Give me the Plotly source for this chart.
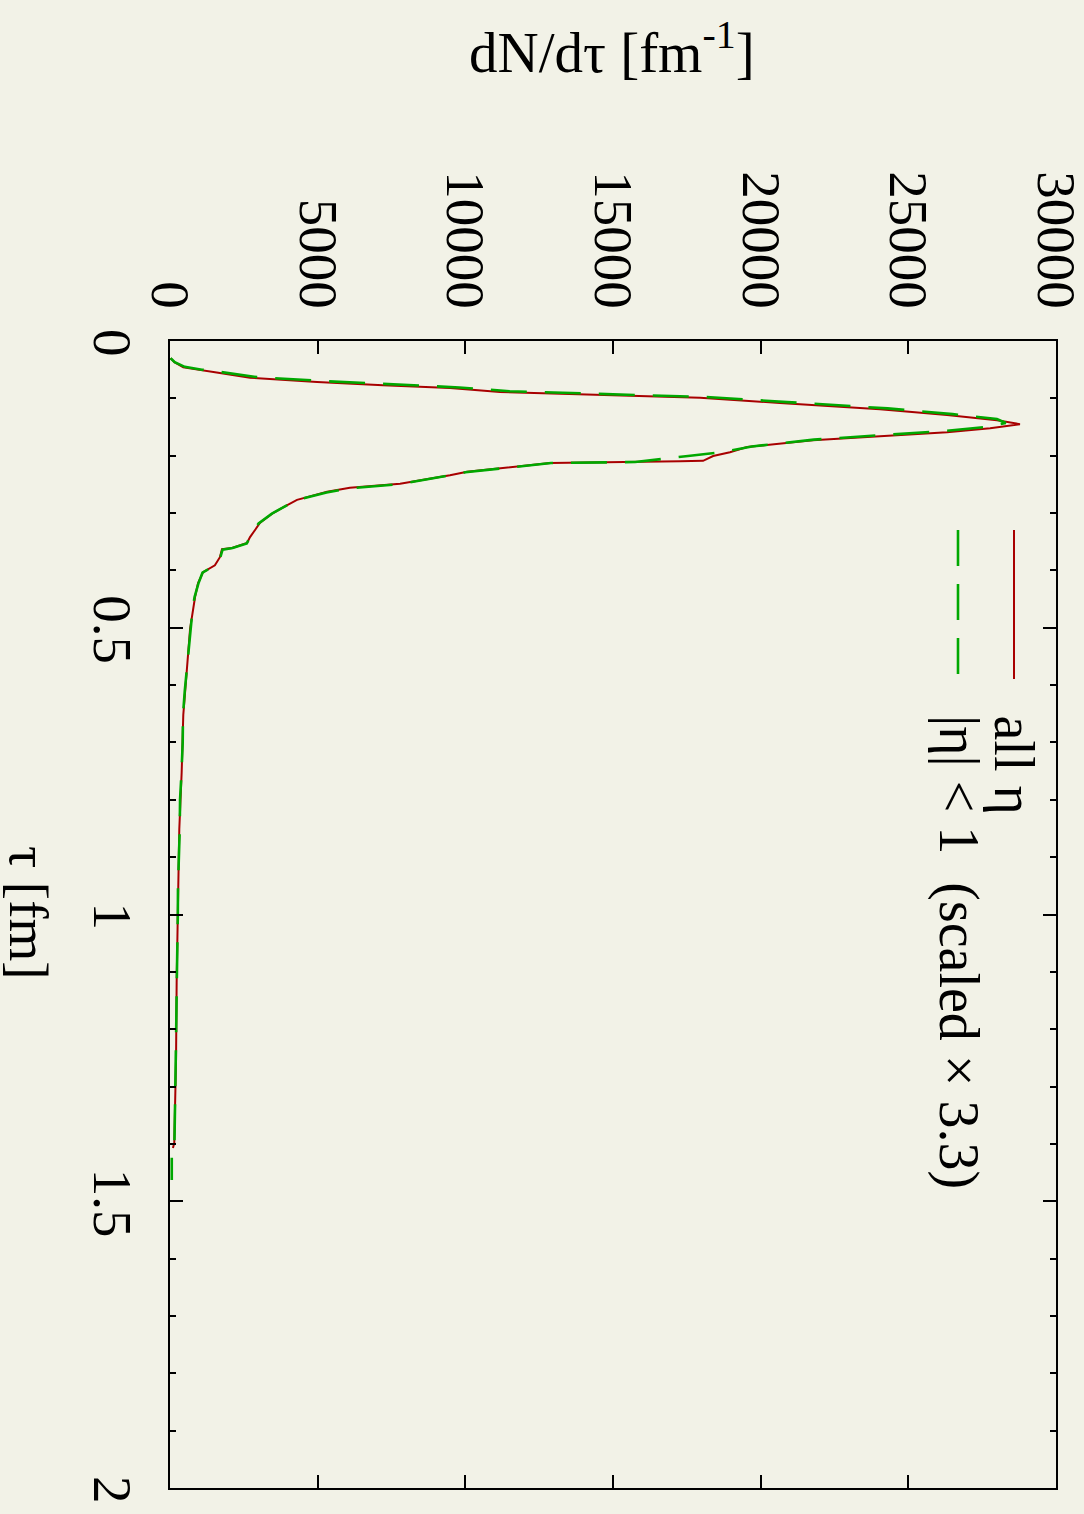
import plotly.graph_objects as go

# dN/dtau for all particles (solid) and for |eta| < 1 scaled by 3.3 (dashed)
tau_all = [0.030, 0.037, 0.046, 0.051, 0.055, 0.064, 0.0715, 0.077, 0.082, 0.089,
           0.094, 0.099, 0.108, 0.119, 0.129, 0.138, 0.145, 0.152, 0.159, 0.166,
           0.173, 0.185, 0.194, 0.2005, 0.209, 0.2095, 0.211, 0.2127, 0.228, 0.234,
           0.249, 0.256, 0.263, 0.277, 0.290, 0.300, 0.317, 0.342, 0.352, 0.361,
           0.363, 0.377, 0.391, 0.403, 0.422, 0.446, 0.502, 0.572, 0.652, 0.752,
           0.851, 0.952, 1.051, 1.118, 1.252, 1.318, 1.398, 1.407]
dn_all = [20, 150, 450, 1016, 1580, 2710, 4980, 7210, 9480, 11170,
          14560, 17950, 20650, 24040, 26310, 28000, 28780, 27770, 26310, 24040,
          21770, 19540, 18960, 18390, 18050, 17270, 15140, 12870, 10060, 9480,
          7790, 6090, 5320, 4300, 3830, 3490, 3050, 2710, 2610, 2100,
          1760, 1690, 1520, 1120, 950, 850, 680, 565, 450, 395,
          315, 280, 245, 225, 205, 170, 145, 100]

tau_mid = [0.030, 0.037, 0.045, 0.050, 0.054, 0.063, 0.070, 0.0755, 0.081, 0.0875,
           0.093, 0.098, 0.1065, 0.1175, 0.1275, 0.136, 0.143, 0.150, 0.157, 0.164,
           0.172, 0.184, 0.1936, 0.2005, 0.204, 0.211, 0.2127, 0.229, 0.235, 0.250,
           0.257, 0.264, 0.278, 0.290, 0.301, 0.318, 0.342, 0.353, 0.361, 0.364,
           0.378, 0.392, 0.404, 0.423, 0.447, 0.470, 0.502, 0.540, 0.572, 0.610,
           0.652, 0.700, 0.752, 0.800, 0.851, 0.900, 0.952, 1.000, 1.051, 1.118,
           1.180, 1.252, 1.318, 1.400, 1.412, 1.463]
dn_mid = [20, 160, 500, 1080, 1700, 2950, 5250, 7500, 9800, 11500,
          14900, 18300, 20900, 24300, 26500, 28000, 28300, 27600, 26200, 24000,
          21800, 19700, 18720, 17540, 16930, 15750, 12900, 10000, 9400, 7700,
          6050, 5300, 4250, 3850, 3450, 3000, 2700, 2600, 2120, 1780,
          1700, 1500, 1100, 960, 830, 760, 700, 610, 560, 500,
          440, 430, 390, 340, 330, 290, 270, 265, 240, 230,
          215, 205, 175, 150, 60, 60]

dn_ticks = [0, 5000, 10000, 15000, 20000, 25000, 30000]
dn_tick_text = ["0", "5000", "10000", "15000", "20000", "25000", "30000"]
tau_ticks = [0, 0.5, 1, 1.5, 2]
tau_tick_text = ["0", "0.5", "1", "1.5", "2"]

label_all = "all η"
label_mid = "|η| &lt; 1\u00a0\u00a0(scaled × 3.3)"
title_dn = "dN/dτ [fm<sup>-1</sup>]"
title_tau = "τ [fm]"

RED = "#a80000"
GREEN = "#00a800"
BG = "#f2f2e7"
FONT = "Liberation Serif"
FS = 55

W, H = 1084, 1514
L, R, T, B = 170, 28, 341, 26
PW, PH = W - L - R, H - T - B


def fx(xp):
    return (xp - L) / PW


def fy(yp):
    return 1 - (yp - T) / PH


fig = go.Figure()
fig.add_trace(go.Scatter(x=dn_all, y=tau_all, mode="lines",
                         line=dict(color=RED, width=2), name=label_all))
fig.add_trace(go.Scatter(x=dn_mid, y=tau_mid, mode="lines",
                         line=dict(color=GREEN, width=2.6, dash="36px,18px"),
                         name=label_mid))

axis_common = dict(showline=True, linecolor="black", linewidth=2,
                   ticks="inside", ticklen=13, tickwidth=2, tickcolor="black",
                   mirror="ticks", showgrid=False, zeroline=False,
                   tickangle=90, ticklabeloverflow="allow", automargin=False,
                   tickfont=dict(family=FONT, size=FS, color="black"))

fig.update_layout(
    width=W, height=H,
    margin=dict(l=L, r=R, t=T, b=B, autoexpand=False),
    paper_bgcolor=BG, plot_bgcolor=BG,
    showlegend=False,
    font=dict(family=FONT, size=FS, color="black"),
    xaxis=dict(range=[0, 30000], side="top", tickmode="array",
               tickvals=dn_ticks, ticktext=dn_tick_text,
               ticklabelstandoff=11, **axis_common),
    yaxis=dict(range=[2, 0], tickmode="array",
               tickvals=tau_ticks, ticktext=tau_tick_text,
               ticklabelstandoff=8, ticklabelshift=-10,
               minor=dict(dtick=0.1, tick0=0, ticks="inside", ticklen=6,
                          tickwidth=2, tickcolor="black"),
               **axis_common),
)

# key drawn by hand so that its text runs along the rotated frame
fig.add_shape(type="line", xref="paper", yref="paper",
              x0=fx(1014), x1=fx(1014), y0=fy(530), y1=fy(679),
              line=dict(color=RED, width=2))
fig.add_shape(type="line", xref="paper", yref="paper",
              x0=fx(958), x1=fx(958), y0=fy(530), y1=fy(674),
              line=dict(color=GREEN, width=2.6, dash="36px,18px"))
fig.add_annotation(text=label_all, xref="paper", yref="paper",
                   x=fx(1014), y=fy(713), xanchor="center", yanchor="top",
                   textangle=90, showarrow=False, font=dict(size=56))
fig.add_annotation(text=label_mid, xref="paper", yref="paper",
                   x=fx(959), y=fy(713), xanchor="center", yanchor="top",
                   textangle=90, showarrow=False, font=dict(size=56))

# axis titles
fig.add_annotation(text=title_dn, xref="paper", yref="paper",
                   x=fx(612), y=fy(48), xanchor="center", yanchor="middle",
                   showarrow=False, font=dict(size=57))
fig.add_annotation(text=title_tau, xref="paper", yref="paper",
                   x=fx(29), y=fy(913), xanchor="center", yanchor="middle",
                   textangle=90, showarrow=False, font=dict(size=55))

fig.write_html("out.html")
